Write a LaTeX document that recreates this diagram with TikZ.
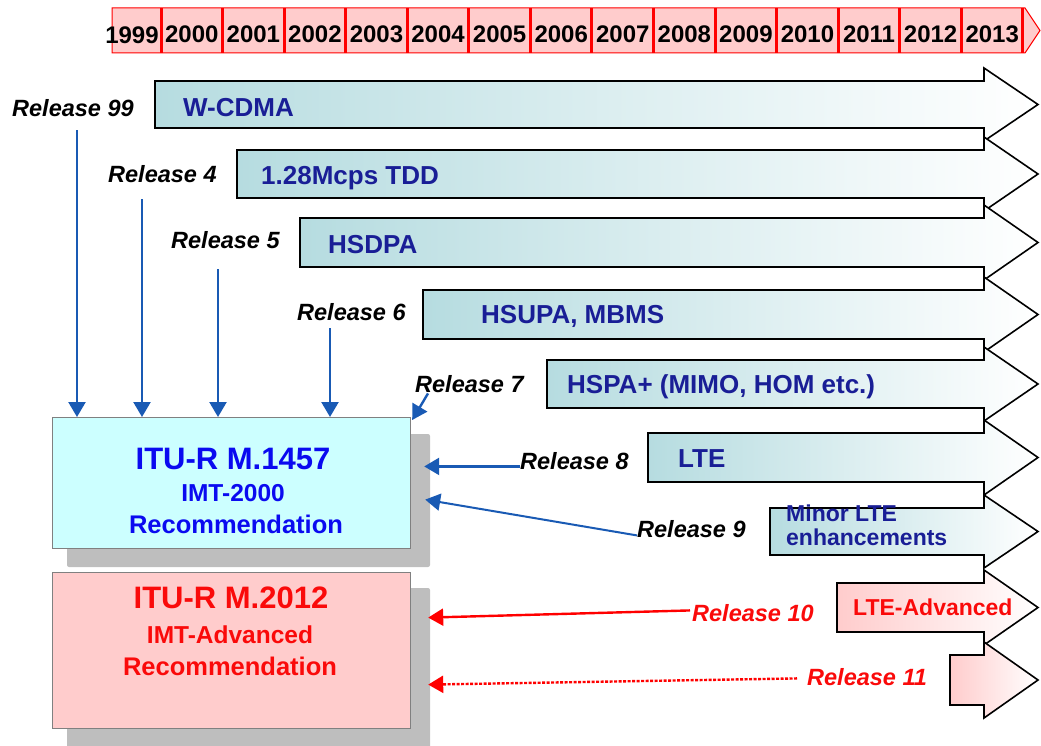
\documentclass[tikz,border=0pt]{standalone}
\usepackage{fontspec}
\setmainfont{Liberation Sans}
\usetikzlibrary{arrows.meta,calc}
\definecolor{tealA}{RGB}{182,220,224}
\definecolor{navytxt}{RGB}{25,30,150}
\definecolor{boxblue}{RGB}{204,255,255}
\definecolor{boxpink}{RGB}{255,204,204}
\definecolor{relblue}{RGB}{25,90,180}
\definecolor{shadowgray}{RGB}{190,190,190}
\definecolor{titleblue}{RGB}{10,10,240}
\definecolor{redtxt}{RGB}{250,10,10}
\newcommand\myfs[1]{\fontsize{#1}{#1}\selectfont}
\newcommand\bigarr[4]{%
  \path[left color=#4, right color=white, draw=black, line width=1.6pt, line join=miter]
    (#1,#2) -- (984,#2) -- (984,#2-13) -- (1038,{(#2+#3)/2}) -- (984,#3+13) -- (984,#3) -- (#1,#3) -- cycle;}
\tikzset{
  year/.style={inner sep=0pt, font=\myfs{24}\bfseries, text=black},
  rel/.style={inner sep=0pt, anchor=base west, font=\myfs{23.5}\bfseries\itshape},
  arrtxt/.style={inner sep=0pt, anchor=base west, font=\myfs{26}\bfseries, text=navytxt},
  smalltxt/.style={inner sep=0pt, anchor=base west, font=\myfs{23}\bfseries},
  ttl/.style={inner sep=0pt, anchor=base},
  relarr/.style={draw=relblue, line width=2.4pt, -{Triangle[width=17pt,length=15pt]}},
  redarr/.style={draw=red, line width=2.4pt, -{Triangle[width=17pt,length=15pt]}},
  recbox/.style={draw=gray, line width=1.2pt, anchor=north west, inner sep=0pt, minimum width=358pt},
}
\begin{document}
\begin{tikzpicture}[x=1pt,y=-1pt]
\useasboundingbox (0,0) rectangle (1041,746);

% timeline
\path[fill=boxpink, draw=red, line width=1pt] (112,8) -- (1025,8) -- (1040,30.5) -- (1025,53) -- (112,53) -- cycle;
\foreach \k in {0,...,14} \draw[red, line width=3pt] ({161+61.57*\k},8) -- ({161+61.57*\k},53);
\node[year] (y1999) at (132,35) {1999};
\foreach \k [evaluate=\k as \yr using int(2000+\k)] in {0,...,13}
  \node[year] (y\yr) at ({161+61.57*(\k+0.5)},34) {\yr};

% big arrows
\bigarr{155}{81}{128}{tealA}
\bigarr{237}{150}{198}{tealA}
\bigarr{300}{218}{267}{tealA}
\bigarr{423}{290}{339}{tealA}
\bigarr{547}{360}{408}{tealA}
\bigarr{648}{433}{482}{tealA}
\bigarr{770}{508}{555}{tealA}
\bigarr{837}{583}{632}{boxpink}
\bigarr{950}{655}{705}{boxpink}

\node[arrtxt] (a1) at (183,117) {W-CDMA};
\node[arrtxt] (a2) at (261,185) {1.28Mcps TDD};
\node[arrtxt] (a3) at (328,253) {HSDPA};
\node[arrtxt] (a4) at (481,323) {HSUPA, MBMS};
\node[arrtxt] (a5) at (567,393) {HSPA+ (MIMO, HOM etc.)};
\node[arrtxt] (a6) at (678,467) {LTE};
\node[smalltxt, text=navytxt] (a7a) at (786,521) {Minor LTE};
\node[smalltxt, text=navytxt] (a7b) at (786,545) {enhancements};
\node[smalltxt, text=redtxt] (a8) at (853,615) {LTE-Advanced};

% shadows and boxes
\fill[shadowgray, rounded corners=2pt] (67,434) rectangle (430,567);
\fill[shadowgray, rounded corners=2pt] (67,588) rectangle (430,750);
\node[recbox, fill=boxblue, minimum height=131pt] (itu1) at (52,417) {};
\node[recbox, fill=boxpink, minimum height=156pt] (itu2) at (52,572) {};

\node[ttl, text=titleblue, font=\myfs{31}\bfseries] (t1a) at (233,469) {ITU-R M.1457};
\node[ttl, text=titleblue, font=\myfs{24.5}\bfseries] (t1b) at (233,501) {IMT-2000};
\node[ttl, text=titleblue, font=\myfs{25.5}\bfseries] (t1c) at (236,533) {Recommendation};
\node[ttl, text=redtxt, font=\myfs{31}\bfseries] (t2a) at (231,608) {ITU-R M.2012};
\node[ttl, text=redtxt, font=\myfs{24.5}\bfseries] (t2b) at (230,643) {IMT-Advanced};
\node[ttl, text=redtxt, font=\myfs{25.5}\bfseries] (t2c) at (230,675) {Recommendation};

% release labels
\node[rel] (r99) at (12,117) {Release 99};
\node[rel] (r4) at (108,183) {Release 4};
\node[rel] (r5) at (171,248) {Release 5};
\node[rel] (r6) at (297,320) {Release 6};
\node[rel] (r7) at (415,392) {Release 7};
\node[rel] (r8) at (520,469) {Release 8};
\node[rel] (r9) at (637,537) {Release 9};
\node[rel, text=redtxt] (r10) at (692,621) {Release 10};
\node[rel, text=redtxt] (r11) at (807,685) {Release 11};

% connectors
\coordinate (s99) at ($(r99.south west)+(65,13)$);
\coordinate (s4) at ($(r4.south west)+(34,16)$);
\coordinate (s5) at ($(r5.south west)+(47,21)$);
\coordinate (s6) at ($(r6.south west)+(33,8)$);
\draw[relarr] (s99) -- (s99 |- itu1.north);
\draw[relarr] (s4) -- (s4 |- itu1.north);
\draw[relarr] (s5) -- (s5 |- itu1.north);
\draw[relarr] (s6) -- (s6 |- itu1.north);
\coordinate (s7) at ($(r7.south west)+(13,1)$);
\draw[relarr] (s7) -- ($(itu1.north east)+(1,3)$);
\coordinate (s8) at ($(r8.south west)+(0,-3)$);
\draw[relarr] (s8) -- ($(s8 -| itu1.east)+(13,0)$);
\coordinate (s9) at ($(r9.south west)+(0,-2)$);
\draw[relarr, line width=2pt] (s9) -- ($(itu1.east)+(14,16.5)$);
\coordinate (s10) at ($(r10.south west)+(-2,-11)$);
\draw[redarr] (s10) -- ($(itu2.east)+(17,-33)$);
\coordinate (s11) at ($(r11.south west)+(-10,-7)$);
\draw[redarr, dash pattern=on 3pt off 1.5pt] (s11) -- ($(itu2.east)+(17,34)$);
\end{tikzpicture}
\end{document}
